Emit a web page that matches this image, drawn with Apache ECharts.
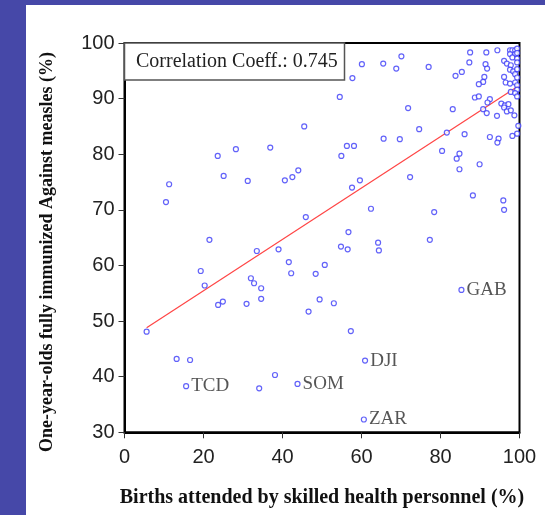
<!DOCTYPE html>
<html><head><meta charset="utf-8">
<script src="https://cdn.jsdelivr.net/npm/echarts@6/dist/echarts.min.js"></script>
<style>html,body{margin:0;padding:0;background:#fff}#c{width:545px;height:515px}</style>
</head><body><div id="c"></div>
<script>
// Births attended by skilled personnel (%)
const pointsX = [
  23.6,28.2,36.9,11.3,10.5,25.1,31.2,40.6,42.5,44.0,21.5,
  70.1,60.1,65.5,68.8,57.7,54.5,71.8,45.5,74.6,65.6,69.7,56.3,58.1,54.9,72.3,59.6,57.6,62.4,45.9,56.7,
  77.0,87.5,91.6,94.4,87.3,83.8,85.4,91.4,91.8,91.1,90.8,89.7,88.7,89.7,92.5,91.9,83.1,90.8,91.7,94.3,95.4,81.6,86.1,92.5,94.7,
  96.1,96.8,97.6,98.2,98.9,99.4,97.6,98.9,99.4,98.2,99.4,97.8,99.4,97.6,98.4,99.4,98.9,99.4,96.1,96.5,97.6,98.9,99.4,99.4,97.8,98.9,99.4,96.3,97.2,96.1,96.8,97.8,98.7,99.7,99.4,98.2,94.4,
  80.4,84.8,84.1,84.8,89.9,88.2,95.9,96.1,78.4,77.3,
  33.5,39.0,19.3,20.3,41.6,42.2,32.0,32.8,34.6,34.6,23.7,24.9,30.9,5.6,13.2,16.6,34.1,38.1,
  64.2,64.4,54.8,56.5,50.7,48.4,49.4,53.0,46.6,57.3
];
// One-year-olds fully immunized against measles (%)
const pointsY = [
  79.7,80.9,81.2,74.6,71.4,76.1,75.2,75.3,75.9,77.1,64.6,
  97.6,96.2,96.3,95.4,93.7,90.3,88.3,85.0,84.5,82.8,82.7,81.5,81.5,79.7,75.9,75.3,74.0,70.2,68.7,66.0,
  95.7,98.3,98.3,98.7,96.5,94.1,94.8,96.2,95.4,93.9,93.0,92.6,90.2,90.4,89.9,89.3,88.1,88.1,87.4,86.9,89.1,83.9,83.6,83.1,82.8,
  96.8,96.3,98.7,98.7,98.7,99.0,98.0,98.0,98.2,97.4,97.2,96.0,96.5,95.2,94.9,95.3,94.4,93.8,93.9,92.9,92.7,92.9,92.4,91.6,91.2,91.0,90.4,88.8,89.0,88.4,87.7,87.9,87.0,85.1,83.7,83.3,82.1,
  80.6,80.1,79.2,77.3,78.2,72.6,71.7,70.0,69.6,64.6,
  62.6,62.9,59.0,56.4,60.6,58.6,57.7,56.8,55.9,54.0,52.9,53.5,53.1,48.1,43.2,43.0,37.9,40.3,
  64.1,62.7,63.4,62.9,60.1,58.5,53.9,53.2,51.7,48.2
];
const labelNames = ['TCD','SOM','DJI','ZAR','GAB'];
const labelX = [15.6,43.8,60.9,60.6,85.3];
const labelY = [38.3,38.7,42.9,32.3,55.6];
const fitX = [5.6, 100];
const fitY = [48.8, 92.4];
const xTickValues = [0,20,40,60,80,100];
const yTickValues = [30,40,50,60,70,80,90,100];
const corrText = 'Correlation Coeff.: 0.745';
const xTitle = 'Births attended by skilled health personnel (%)';
const yTitle = 'One-year-olds fully immunized Against measles (%)';

const chart = echarts.init(document.getElementById('c'), null, {renderer:'canvas'});
const blue = '#4648a8';
const ringStyle = {color:'#ffffff', borderColor:'#3b3bf8', borderWidth:1.2};
chart.setOption({
  animation:false,
  backgroundColor:'#ffffff',
  grid:{left:124.5, right:25.5, top:43, bottom:82.7, show:true, borderColor:'#000', borderWidth:2, backgroundColor:'#fff'},
  xAxis:{type:'value', min:xTickValues[0], max:xTickValues[xTickValues.length-1], interval:20,
    axisLine:{show:true, onZero:false, lineStyle:{color:'#000', width:2}},
    axisTick:{show:true, length:6, lineStyle:{color:'#333', width:1}},
    axisLabel:{fontFamily:'Liberation Sans', fontSize:20, color:'#222', margin:15},
    splitLine:{show:false}},
  yAxis:{type:'value', min:yTickValues[0], max:yTickValues[yTickValues.length-1], interval:10,
    axisLine:{show:true, onZero:false, lineStyle:{color:'#000', width:2}},
    axisTick:{show:true, length:6, lineStyle:{color:'#333', width:1}},
    axisLabel:{fontFamily:'Liberation Sans', fontSize:20, color:'#222', margin:10},
    splitLine:{show:false}},
  series:[
    {type:'line', data:fitX.map((x,i)=>[x,fitY[i]]), symbol:'none', lineStyle:{color:'#ff4545', width:1.2}, z:1},
    {type:'scatter', data:pointsX.map((x,i)=>[x,pointsY[i]]), symbol:'circle', symbolSize:5, itemStyle:ringStyle, z:3},
    {type:'scatter', data:labelX.map((x,i)=>[x,labelY[i]]), symbol:'circle', symbolSize:5, itemStyle:ringStyle, z:3,
      label:{show:true, position:'right', distance:2, formatter:p=>labelNames[p.dataIndex], fontFamily:'Liberation Serif', fontSize:19, color:'#2a2a2a'}}
  ],
  graphic:[
    {type:'rect', shape:{x:0,y:0,width:26,height:515}, style:{fill:blue}, z:200},
    {type:'rect', shape:{x:0,y:0,width:545,height:5}, style:{fill:blue}, z:200},
    {type:'rect', shape:{x:124.5,y:43,width:220,height:37}, style:{fill:'#fff', stroke:'#555', lineWidth:1.5}, z:150},
    {type:'text', x:136, y:62, style:{text:corrText, font:'20px "Liberation Serif"', fill:'#222', verticalAlign:'middle'}, z:151},
    {type:'text', x:322, y:498, style:{text:xTitle, font:'bold 20px "Liberation Serif"', fill:'#111', align:'center', verticalAlign:'middle'}, z:151},
    {type:'text', x:47, y:252, rotation:Math.PI/2, style:{text:yTitle, font:'bold 18px "Liberation Serif"', fill:'#111', align:'center', verticalAlign:'middle'}, z:151}
  ]
});
</script></body></html>
